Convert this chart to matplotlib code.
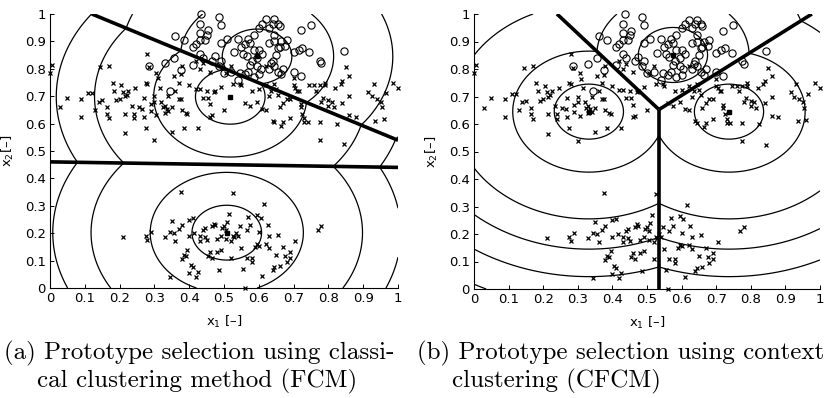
import numpy as np
import matplotlib
matplotlib.use("Agg")
import matplotlib.pyplot as plt

# ---------------- data ----------------
circ_x = [0.435, 0.485, 0.43, 0.455, 0.43, 0.45, 0.43, 0.445, 0.49, 0.36, 0.385, 0.41, 0.42, 0.43,
          0.44, 0.355, 0.375, 0.41, 0.285, 0.33, 0.345, 0.475, 0.49, 0.51, 0.465, 0.49, 0.485, 0.52,
          0.50, 0.54, 0.545, 0.53, 0.55, 0.57, 0.585, 0.575, 0.56, 0.555, 0.565, 0.585, 0.60, 0.61,
          0.595, 0.58, 0.575, 0.595, 0.605, 0.60, 0.585, 0.57, 0.56, 0.63, 0.64, 0.645, 0.655, 0.66,
          0.645, 0.63, 0.645, 0.66, 0.665, 0.68, 0.675, 0.65, 0.655, 0.64, 0.645, 0.635, 0.63, 0.655,
          0.67, 0.665, 0.70, 0.72, 0.70, 0.715, 0.725, 0.72, 0.745, 0.75, 0.775, 0.78, 0.845, 0.62,
          0.61, 0.54, 0.60]
circ_y = [1.0, 0.99, 0.965, 0.94, 0.93, 0.925, 0.905, 0.905, 0.96, 0.92, 0.905, 0.88, 0.89, 0.855,
          0.84, 0.84, 0.795, 0.815, 0.81, 0.82, 0.72, 0.845, 0.895, 0.91, 0.83, 0.83, 0.81, 0.79,
          0.785, 0.76, 0.785, 0.86, 0.88, 0.91, 0.925, 0.895, 0.89, 0.855, 0.845, 0.87, 0.87, 0.855,
          0.84, 0.83, 0.815, 0.81, 0.80, 0.78, 0.77, 0.79, 0.78, 0.95, 0.965, 0.98, 0.965, 0.955,
          0.925, 0.895, 0.90, 0.88, 0.90, 0.905, 0.885, 0.85, 0.875, 0.83, 0.81, 0.82, 0.80, 0.79,
          0.80, 0.78, 0.79, 0.775, 0.86, 0.87, 0.875, 0.94, 0.86, 0.96, 0.83, 0.82, 0.865, 0.98,
          0.965, 0.91, 0.95]

cross_x = [0.005, 0.0, 0.03, 0.05, 0.09, 0.09, 0.11, 0.12, 0.13, 0.14, 0.15, 0.145, 0.17, 0.165,
           0.165, 0.17, 0.18, 0.185, 0.19, 0.20, 0.205, 0.21, 0.215, 0.22, 0.225, 0.215, 0.215, 0.235,
           0.24, 0.24, 0.245, 0.255, 0.265, 0.27, 0.27, 0.275, 0.28, 0.28, 0.275, 0.285, 0.29, 0.29,
           0.30, 0.30, 0.305, 0.30, 0.305, 0.31, 0.315, 0.32, 0.325, 0.33, 0.335, 0.33, 0.34, 0.34,
           0.35, 0.35, 0.355, 0.36, 0.37, 0.37, 0.375, 0.38, 0.375, 0.38, 0.385, 0.39, 0.395, 0.40,
           0.42, 0.425, 0.43, 0.44, 0.45, 0.455, 0.46, 0.465, 0.47, 0.46, 0.475, 0.49, 0.50, 0.42,
           0.44, 0.43, 0.46, 0.505, 0.52, 0.525, 0.545, 0.56, 0.575, 0.58, 0.595, 0.60, 0.61, 0.62,
           0.62, 0.63, 0.635, 0.64, 0.645, 0.65, 0.655, 0.66, 0.665, 0.67, 0.67, 0.68, 0.69, 0.69,
           0.70, 0.705, 0.71, 0.715, 0.72, 0.72, 0.725, 0.73, 0.73, 0.74, 0.745, 0.76, 0.765, 0.775,
           0.775, 0.775, 0.78, 0.785, 0.79, 0.79, 0.80, 0.80, 0.81, 0.815, 0.82, 0.825, 0.835, 0.84,
           0.84, 0.845, 0.85, 0.86, 0.86, 0.86, 0.88, 0.915, 0.925, 0.93, 0.935, 0.94, 0.95, 0.955,
           0.96, 0.965, 0.985, 1.0, 0.62, 0.70, 0.645, 0.55,
           # lower cluster
           0.21, 0.275, 0.28, 0.29, 0.33, 0.345, 0.345, 0.35, 0.355, 0.36, 0.37, 0.375, 0.38, 0.38,
           0.385, 0.39, 0.395, 0.40, 0.40, 0.41, 0.405, 0.41, 0.40, 0.42, 0.425, 0.415, 0.43, 0.43,
           0.44, 0.445, 0.445, 0.45, 0.455, 0.46, 0.465, 0.465, 0.47, 0.475, 0.48, 0.48, 0.485, 0.49,
           0.49, 0.495, 0.50, 0.505, 0.505, 0.51, 0.515, 0.52, 0.52, 0.525, 0.525, 0.53, 0.535, 0.54,
           0.545, 0.55, 0.555, 0.56, 0.565, 0.565, 0.57, 0.575, 0.58, 0.58, 0.59, 0.595, 0.60, 0.60,
           0.605, 0.61, 0.615, 0.62, 0.625, 0.63, 0.64, 0.645, 0.65, 0.655, 0.66, 0.675, 0.68, 0.69,
           0.69, 0.67, 0.705, 0.77, 0.78, 0.63, 0.595]
cross_y = [0.815, 0.785, 0.66, 0.695, 0.69, 0.625, 0.71, 0.71, 0.65, 0.68, 0.685, 0.805, 0.81, 0.66,
           0.635, 0.62, 0.75, 0.72, 0.685, 0.69, 0.74, 0.715, 0.70, 0.705, 0.72, 0.635, 0.565, 0.665,
           0.635, 0.62, 0.73, 0.66, 0.655, 0.625, 0.695, 0.75, 0.855, 0.745, 0.585, 0.805, 0.67, 0.645,
           0.68, 0.70, 0.63, 0.54, 0.785, 0.765, 0.73, 0.68, 0.66, 0.665, 0.655, 0.64, 0.70, 0.645,
           0.66, 0.57, 0.775, 0.72, 0.75, 0.69, 0.69, 0.81, 0.78, 0.65, 0.585, 0.64, 0.635, 0.74,
           0.725, 0.585, 0.725, 0.695, 0.72, 0.695, 0.625, 0.63, 0.715, 0.67, 0.72, 0.735, 0.65, 0.83,
           0.82, 0.80, 0.79, 0.785, 0.81, 0.745, 0.745, 0.675, 0.665, 0.72, 0.68, 0.725, 0.655, 0.74,
           0.65, 0.70, 0.72, 0.61, 0.605, 0.725, 0.705, 0.66, 0.59, 0.605, 0.675, 0.69, 0.69, 0.62,
           0.74, 0.73, 0.72, 0.72, 0.66, 0.67, 0.635, 0.62, 0.605, 0.605, 0.74, 0.74, 0.72, 0.605,
           0.54, 0.74, 0.68, 0.695, 0.75, 0.74, 0.665, 0.685, 0.68, 0.66, 0.73, 0.60, 0.745, 0.755,
           0.675, 0.525, 0.805, 0.775, 0.70, 0.63, 0.625, 0.715, 0.70, 0.745, 0.61, 0.69, 0.68, 0.66,
           0.615, 0.71, 0.75, 0.73, 0.81, 0.765, 0.745, 0.74,
           # lower cluster
           0.185, 0.19, 0.175, 0.205, 0.185, 0.04, 0.205, 0.245, 0.20, 0.17, 0.215, 0.35, 0.23, 0.105,
           0.12, 0.115, 0.14, 0.19, 0.25, 0.255, 0.085, 0.075, 0.055, 0.04, 0.06, 0.20, 0.17, 0.19,
           0.21, 0.22, 0.185, 0.175, 0.115, 0.13, 0.11, 0.225, 0.235, 0.23, 0.13, 0.18, 0.065, 0.19,
           0.14, 0.22, 0.225, 0.18, 0.21, 0.24, 0.27, 0.17, 0.11, 0.345, 0.19, 0.185, 0.20, 0.19,
           0.225, 0.145, 0.07, 0.0, 0.21, 0.11, 0.26, 0.23, 0.11, 0.095, 0.15, 0.16, 0.155, 0.205,
           0.255, 0.045, 0.305, 0.16, 0.23, 0.19, 0.065, 0.075, 0.12, 0.195, 0.08, 0.115, 0.095, 0.13,
           0.11, 0.15, 0.17, 0.21, 0.225, 0.145, 0.265]

# prototypes (cluster centres)
fcm_cx = [0.595, 0.518, 0.508]
fcm_cy = [0.845, 0.698, 0.202]
cfcm_cx = [0.575, 0.332, 0.737]
cfcm_cy = [0.851, 0.645, 0.645]

levels = [0.1, 0.22, 0.39, 0.5, 0.6, 0.71]

ticks = [0, 0.1, 0.2, 0.3, 0.4, 0.5, 0.6, 0.7, 0.8, 0.9, 1]
tick_labels = ["0", "0.1", "0.2", "0.3", "0.4", "0.5", "0.6", "0.7", "0.8", "0.9", "1"]

caption_a = ["(a) Prototype selection using classi-", "cal clustering method (FCM)"]
caption_b = ["(b) Prototype selection using context", "clustering (CFCM)"]

# ---------------- drawing ----------------
W, H = 826, 398
fig = plt.figure(figsize=(W / 100, H / 100), dpi=100)

def panel(rect, cx, cy):
    ax = fig.add_axes(rect)
    g = np.linspace(0, 1, 700)
    X, Y = np.meshgrid(g, g)
    D = np.array([np.hypot(X - a, Y - b) for a, b in zip(cx, cy)])
    dmin = D.min(axis=0)
    ax.contour(X, Y, dmin, levels=levels, colors="black", linewidths=0.9)
    n = len(cx)
    for i in range(n):
        for j in range(i + 1, n):
            diff = D[i] - D[j]
            others = [k for k in range(n) if k not in (i, j)]
            mask = np.zeros_like(diff, dtype=bool)
            for k in others:
                mask |= D[k] < np.minimum(D[i], D[j])
            ax.contour(X, Y, np.ma.masked_array(diff, mask), levels=[0],
                       colors="black", linewidths=2.6)
    ax.plot(cross_x, cross_y, "x", color="black", ms=3.4, mew=0.9, clip_on=False)
    ax.plot(circ_x, circ_y, "o", mfc="none", mec="black", ms=5.2, mew=0.8, clip_on=False)
    ax.plot(cx, cy, "s", color="black", ms=3.5)
    ax.set_xlim(0, 1)
    ax.set_ylim(0, 1)
    for s in ("top", "right"):
        ax.spines[s].set_visible(False)
    for s in ("left", "bottom"):
        ax.spines[s].set_linewidth(0.8)
    ax.set_xticks(ticks)
    ax.set_yticks(ticks)
    ax.set_xticklabels(tick_labels)
    ax.set_yticklabels(tick_labels)
    ax.tick_params(direction="in", length=3, width=0.7, labelsize=9.5, pad=3, colors="black")
    ax.set_xlabel(r"x$_1$ [–]", fontsize=9.5, labelpad=6)
    ax.set_ylabel(r"x$_2$[–]", fontsize=9.5, labelpad=6)
    return ax

axl = panel([50 / W, 1 - 288 / H, 348 / W, 274 / H], fcm_cx, fcm_cy)
axr = panel([474 / W, 1 - 289 / H, 346 / W, 275 / H], cfcm_cx, cfcm_cy)

for (x1, x2), cap in (((4, 37), caption_a), ((417, 452), caption_b)):
    fig.text(x1 / W, 1 - 353 / H, cap[0], family="cmr10", fontsize=18, va="center", ha="left")
    fig.text(x2 / W, 1 - 381 / H, cap[1], family="cmr10", fontsize=18, va="center", ha="left")

fig.savefig("out.png", dpi=100)
